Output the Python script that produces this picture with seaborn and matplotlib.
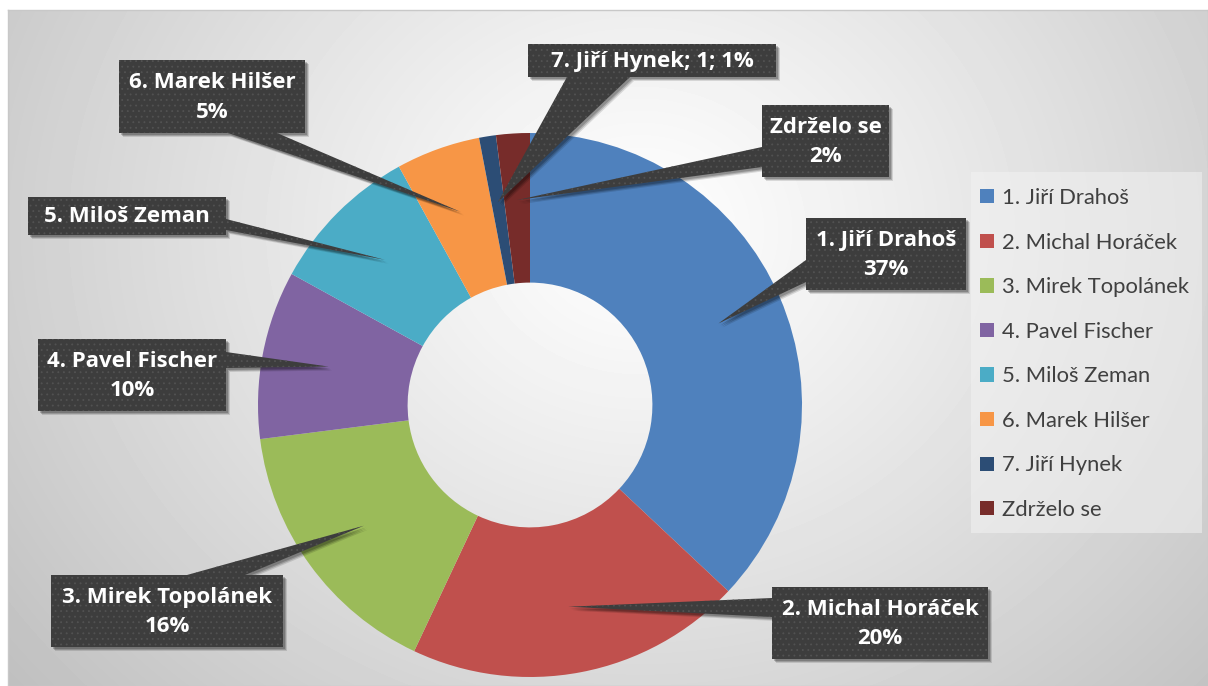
import numpy as np
import matplotlib
matplotlib.use("Agg")
import matplotlib.pyplot as plt
from matplotlib.patches import Polygon, Rectangle
import seaborn as sns

# data
names = ['1. Jiří Drahoš', '2. Michal Horáček', '3. Mirek Topolánek', '4. Pavel Fischer',
         '5. Miloš Zeman', '6. Marek Hilšer', '7. Jiří Hynek', 'Zdrželo se']
votes = [37, 20, 16, 10, 9, 5, 1, 2]
# what each callout shows: n = name, v = value, p = percent
label_parts = ['np', 'np', 'np', 'np', 'n', 'np', 'nvp', 'np']
colors = ['#4F81BD', '#C0504D', '#9BBB59', '#8064A2', '#4BACC6', '#F79646', '#2C4D75', '#772C2A']

# callout boxes in pixels (left, top, right, bottom) and pointer base (side, from, to)
boxes = [(806, 218, 966, 290), (772, 587, 988, 659), (51, 575, 283, 647), (38, 339, 226, 411),
         (28, 197, 226, 235), (119, 60, 305, 133), (528, 44, 776, 77), (762, 105, 889, 177)]
bases = [('left', 260, 282), ('left', 598, 617), ('top', 187, 245), ('right', 352, 368),
         ('right', 219, 230), ('bottom', 228, 277), ('bottom', 567, 630), ('left', 147, 167)]

W, H = 1208, 686
CX, CY, R = 530, 405, 272

sns.set_style('white')
plt.rcParams['font.family'] = ['Lato', 'DejaVu Sans']
plt.rcParams['hatch.linewidth'] = 0.6
pal = sns.color_palette(colors)

fig = plt.figure(figsize=(W / 100, H / 100), dpi=100)
fig.patch.set_facecolor('white')

# background with radial grey gradient
bg = fig.add_axes([8 / W, 0, (W - 8) / W, (H - 10) / H])
yy, xx = np.mgrid[10:H, 8:W]
d = np.hypot(xx - 640, (yy - 230) * 1.15)
g = 1 - 0.25 * np.clip(d / d.max(), 0, 1) ** 1.1
bg.imshow(g, cmap='gray', vmin=0, vmax=1, extent=(8, W, H, 10), aspect='auto')
bg.set_xticks([])
bg.set_yticks([])
for s in bg.spines.values():
    s.set_color('#c8c8c8')
    s.set_linewidth(1)

# donut
pa = fig.add_axes([(CX - R) / W, (H - CY - R) / H, 2 * R / W, 2 * R / H])
wedges, _ = pa.pie(votes, colors=pal, startangle=90, counterclock=False,
                   radius=1, wedgeprops=dict(width=0.55, linewidth=0))
pa.set_xlim(-1, 1)
pa.set_ylim(-1, 1)
pa.axis('off')

# callouts
ov = fig.add_axes([0, 0, 1, 1])
ov.set_xlim(0, W)
ov.set_ylim(H, 0)
ov.axis('off')
ov.patch.set_alpha(0)

total = sum(votes)
cum = np.cumsum([0] + votes)
for i, v in enumerate(votes):
    mid = (cum[i] + v / 2) / total * 2 * np.pi
    tx = CX + 0.755 * R * np.sin(mid)
    ty = CY - 0.755 * R * np.cos(mid)
    l, t, r, b = boxes[i]
    side, a1, a2 = bases[i]
    if side == 'left':
        pts = [(l, t), (r, t), (r, b), (l, b), (l, a2), (tx, ty), (l, a1)]
    elif side == 'right':
        pts = [(l, t), (r, t), (r, a1), (tx, ty), (r, a2), (r, b), (l, b)]
    elif side == 'top':
        pts = [(l, t), (a1, t), (tx, ty), (a2, t), (r, t), (r, b), (l, b)]
    else:
        pts = [(l, t), (r, t), (r, b), (a2, b), (tx, ty), (a1, b), (l, b)]
    for off, al in [(4, 0.12), (3, 0.18), (2, 0.2)]:
        ov.add_patch(Polygon([(x + off, y + off) for x, y in pts], closed=True,
                             facecolor='black', alpha=al, linewidth=0, zorder=2))
    ov.add_patch(Polygon(pts, closed=True, facecolor='#3d3d3d', edgecolor='#525252',
                         hatch='...', linewidth=0, zorder=3))
    pct = f'{round(v / total * 100)}%'
    if label_parts[i] == 'n':
        txt = names[i]
    elif label_parts[i] == 'nvp':
        txt = f'{names[i]}; {v}; {pct}'
    else:
        txt = f'{names[i]}\n{pct}'
    ov.text((l + r) / 2, (t + b) / 2 + 1, txt, ha='center', va='center', color='white',
            fontsize=16, fontweight='bold', family=['Open Sans', 'DejaVu Sans'],
            linespacing=1.5, zorder=4)

# legend
ov.add_patch(Rectangle((971, 172), 231, 361, facecolor='#f2f2f2', alpha=0.55,
                       linewidth=0, zorder=1))
leg = fig.legend(wedges, names, loc='upper left', bbox_to_anchor=(980 / W, 1 - 188 / H),
                 frameon=False, fontsize=15.8, labelspacing=1.12, handlelength=0.62,
                 handleheight=0.62, handletextpad=0.4, borderpad=0, borderaxespad=0)
for tx in leg.get_texts():
    tx.set_color('#404040')

fig.savefig('out.png', dpi=100)
